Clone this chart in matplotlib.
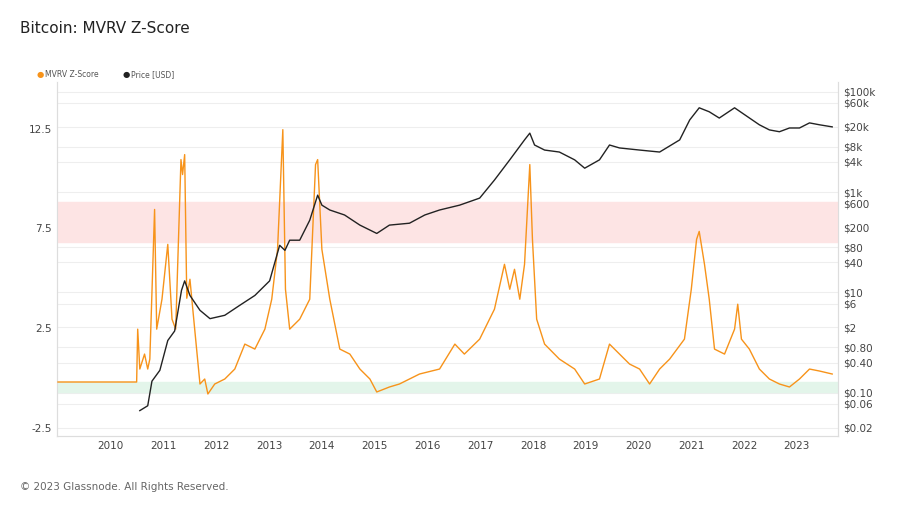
import numpy as np
import matplotlib.pyplot as plt
from matplotlib.ticker import FixedLocator, FixedFormatter

plt.rc('font', family='DejaVu Sans')

# MVRV Z-Score (year, value)
z_year = [2009.0, 2010.49, 2010.51, 2010.55, 2010.64, 2010.70, 2010.74, 2010.83, 2010.87, 2010.97,
          2011.08, 2011.16, 2011.23, 2011.33, 2011.36, 2011.40, 2011.44, 2011.50, 2011.59, 2011.69,
          2011.78, 2011.84, 2011.97, 2012.16, 2012.35, 2012.54, 2012.73, 2012.92, 2013.05, 2013.16,
          2013.26, 2013.31, 2013.39, 2013.58, 2013.77, 2013.88, 2013.92, 2014.00, 2014.15, 2014.34,
          2014.53, 2014.72, 2014.91, 2015.04, 2015.28, 2015.47, 2015.85, 2016.23, 2016.52, 2016.70,
          2016.99, 2017.27, 2017.46, 2017.56, 2017.65, 2017.75, 2017.84, 2017.94, 2017.99, 2018.07,
          2018.22, 2018.50, 2018.79, 2018.98, 2019.26, 2019.45, 2019.64, 2019.83, 2020.02, 2020.21,
          2020.40, 2020.59, 2020.87, 2021.00, 2021.10, 2021.15, 2021.25, 2021.34, 2021.44, 2021.63,
          2021.82, 2021.88, 2021.95, 2022.10, 2022.29, 2022.48, 2022.67, 2022.86, 2023.05, 2023.24,
          2023.43, 2023.67]
z_val = [-0.2, -0.2, 2.45, 0.45, 1.2, 0.45, 0.95, 8.45, 2.45, 3.95,
         6.7, 2.95, 2.45, 10.95, 10.2, 11.2, 4.0, 4.95, 2.45, -0.3,
         -0.05, -0.8, -0.3, -0.05, 0.45, 1.7, 1.45, 2.45, 3.95, 6.45,
         12.45, 4.45, 2.45, 2.95, 3.95, 10.7, 10.95, 6.45, 3.95, 1.45,
         1.2, 0.45, -0.05, -0.7, -0.45, -0.3, 0.2, 0.45, 1.7, 1.2,
         1.95, 3.45, 5.7, 4.45, 5.45, 3.95, 5.7, 10.7, 6.95, 2.95,
         1.7, 0.95, 0.45, -0.3, -0.05, 1.7, 1.2, 0.7, 0.45, -0.3,
         0.45, 0.95, 1.95, 4.45, 6.95, 7.35, 5.7, 3.95, 1.45, 1.2,
         2.45, 3.7, 1.95, 1.45, 0.45, -0.05, -0.3, -0.45, -0.05, 0.45,
         0.35, 0.2]

# Price in USD (year, price)
p_year = [2010.55, 2010.70, 2010.78, 2010.93, 2011.08, 2011.21, 2011.34, 2011.40, 2011.50, 2011.69,
          2011.88, 2012.16, 2012.44, 2012.73, 2013.01, 2013.20, 2013.30, 2013.39, 2013.58, 2013.77,
          2013.92, 2014.00, 2014.15, 2014.43, 2014.72, 2015.04, 2015.28, 2015.66, 2015.95, 2016.23,
          2016.61, 2016.99, 2017.27, 2017.56, 2017.84, 2017.94, 2018.03, 2018.22, 2018.50, 2018.79,
          2018.98, 2019.26, 2019.45, 2019.64, 2020.02, 2020.40, 2020.78, 2020.97, 2021.15, 2021.34,
          2021.53, 2021.82, 2022.01, 2022.29, 2022.48, 2022.67, 2022.86, 2023.05, 2023.24, 2023.43,
          2023.67]
p_val = [0.044, 0.055, 0.17, 0.28, 1.1, 1.7, 11, 17, 8.7, 4.4,
         3.0, 3.5, 5.5, 8.7, 17, 87, 69, 110, 110, 275,
         870, 550, 440, 350, 220, 150, 220, 240, 350, 440,
         550, 760, 1740, 4400, 11000, 15000, 8700, 6900, 6300, 4400,
         3000, 4400, 8700, 7600, 6900, 6300, 11000, 27500, 48000, 40000,
         30000, 48000, 35000, 22000, 17400, 16000, 19000, 19000, 24000, 22000,
         20000]

years = list(range(2010, 2024))
left_ticks = [-2.5, 2.5, 7.5, 12.5]
right_ticks = [1e5, 6e4, 2e4, 8e3, 4e3, 1e3, 600, 200, 80, 40, 10, 6, 2, 0.8, 0.4, 0.1, 0.06, 0.02]
right_labels = ['$100k', '$60k', '$20k', '$8k', '$4k', '$1k', '$600', '$200', '$80', '$40',
                '$10', '$6', '$2', '$0.80', '$0.40', '$0.10', '$0.06', '$0.02']

fig = plt.figure(figsize=(9.04, 5.08), dpi=100)
ax = fig.add_axes([0.063, 0.142, 0.864, 0.697])
ax2 = ax.twinx()

# right log axis (price) with grid, drawn underneath
ax2.set_yscale('log')
ax2.set_ylim(10**-1.86, 10**5.2)
ax2.yaxis.set_major_locator(FixedLocator(right_ticks))
ax2.yaxis.set_major_formatter(FixedFormatter(right_labels))
ax2.yaxis.set_minor_locator(FixedLocator([]))
ax2.grid(True, color='#eeeeee', linewidth=0.8)
ax2.set_zorder(0)

# left axis (z-score) on top
ax.set_zorder(1)
ax.patch.set_visible(False)
ax.set_xlim(2008.98, 2023.78)
ax.set_ylim(-2.9, 14.85)
ax.axhspan(6.8, 8.8, color='#fde4e4', zorder=0)
ax.axhspan(-0.7, -0.2, color='#e3f5ea', zorder=0)
ax.plot(z_year, z_val, color='#f7931a', linewidth=1.0, zorder=3)
ax.set_yticks(left_ticks)
ax.set_yticklabels(['-2.5', '2.5', '7.5', '12.5'])
ax.set_xticks(years)
ax.set_xticklabels([str(y) for y in years])

# price line above the bands
ax3 = ax.twinx()
ax3.set_zorder(2)
ax3.patch.set_visible(False)
ax3.set_yscale('log')
ax3.set_ylim(ax2.get_ylim())
ax3.plot(p_year, p_val, color='#222222', linewidth=1.0)
ax3.axis('off')

for a in (ax, ax2):
    a.tick_params(length=0, labelsize=7.5, colors='#444444')
    for s in a.spines.values():
        s.set_color('#dddddd')
    a.spines['top'].set_visible(False)

fig.text(0.022, 0.935, 'Bitcoin: MVRV Z-Score', fontsize=11, color='#222222')
fig.text(0.022, 0.035, '\u00a9 2023 Glassnode. All Rights Reserved.', fontsize=7.5, color='#666666')
fig.text(0.04, 0.848, '\u25cf', fontsize=6, color='#f7931a')
fig.text(0.05, 0.848, 'MVRV Z-Score', fontsize=5.5, color='#555555')
fig.text(0.135, 0.848, '\u25cf', fontsize=6, color='#222222')
fig.text(0.145, 0.848, 'Price [USD]', fontsize=5.5, color='#555555')

fig.savefig('out.png', dpi=100)
